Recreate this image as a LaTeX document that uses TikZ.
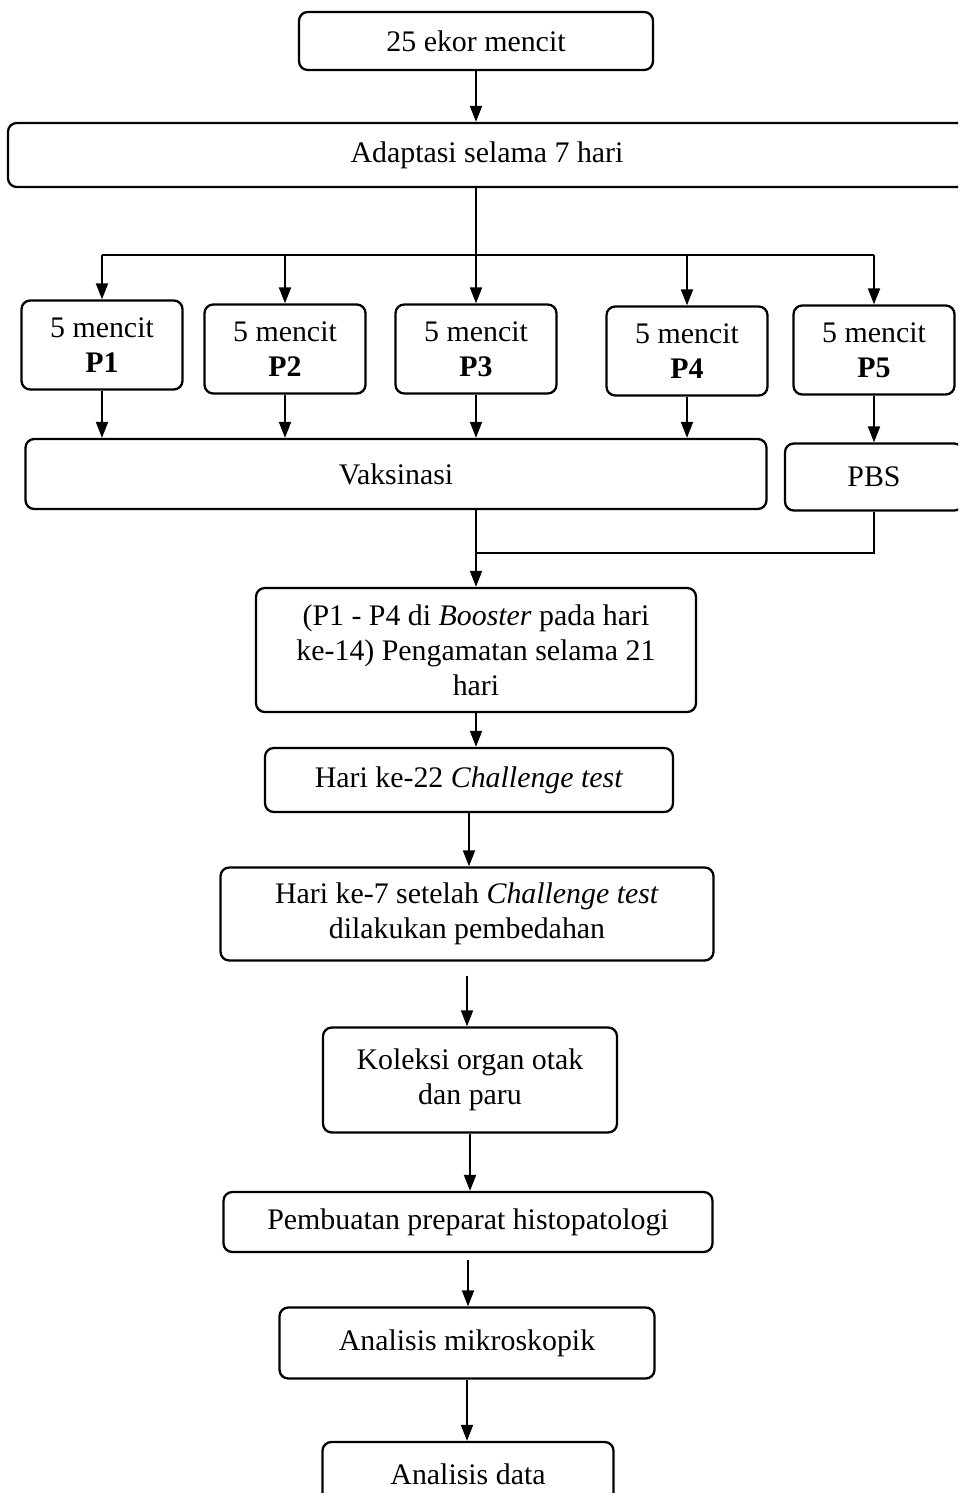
\documentclass[tikz,border=0pt]{standalone}
\usepackage{fontspec}
\setmainfont{Liberation Serif}
\usetikzlibrary{arrows.meta}
\tikzset{
  % rounded step boxes
  box/.style={draw, rounded corners=5pt, align=center, line width=1.3pt,
    font=\fontsize{17}{19.8}\selectfont},
  % box size given in pixels of the layout grid
  sz/.style 2 args={minimum width=#1*0.02cm, minimum height=#2*0.02cm},
  % connectors
  flow/.style={-{Triangle[length=0.32cm,width=0.24cm]}, line width=1.1pt},
  link/.style={line width=1.1pt},
}

\begin{document}
\begin{tikzpicture}[x=0.02cm, y=-0.02cm]
  \useasboundingbox (0,0) rectangle (958,1493);
  \clip (0,0) rectangle (958,1493);

  \node[box, sz={354}{58}] (start) at (476,41) {25 ekor mencit};
  \node[box, sz={958}{64}] (adapt) at (487,155) {Adaptasi selama 7 hari};

  \coordinate (bus) at (476,255);

  \node[box, sz={161}{89}] (p1) at (102,345) {5 mencit\\\textbf{P1}};
  \node[box, sz={161}{89}] (p2) at (285,349) {5 mencit\\\textbf{P2}};
  \node[box, sz={161}{89}] (p3) at (476,349) {5 mencit\\\textbf{P3}};
  \node[box, sz={161}{89}] (p4) at (687,351) {5 mencit\\\textbf{P4}};
  \node[box, sz={161}{89}] (p5) at (874,350) {5 mencit\\\textbf{P5}};

  \node[box, sz={741}{70}] (vaks) at (396,474) {Vaksinasi};
  \node[box, sz={178}{67}] (pbs) at (874,477) {PBS};

  \coordinate (join) at (476,553);

  \node[box, sz={440}{124}] (boost) at (476,650)
    {(P1 - P4 di \textit{Booster} pada hari\\ke-14) Pengamatan selama 21\\hari};
  \node[box, sz={408}{64}] (ch22) at (469,780) {Hari ke-22 \textit{Challenge test}};
  \node[box, sz={493}{93}] (ch7) at (467,914)
    {Hari ke-7 setelah \textit{Challenge test}\\dilakukan pembedahan};
  \node[box, sz={294}{105}] (kol) at (470,1080) {Koleksi organ otak\\dan paru};
  \node[box, sz={489}{60}] (prep) at (468,1222) {Pembuatan preparat histopatologi};
  \node[box, sz={375}{71}] (mikro) at (467,1343) {Analisis mikroskopik};
  \node[box, sz={291}{64}] (data) at (468,1474) {Analisis data};

  \draw[flow] (start) -- (start |- adapt.north);
  \draw[link] (adapt.south -| bus) -- (bus);
  \draw[link] (bus -| p1) -- (bus -| p5);
  \foreach \p in {p1,p2,p3,p4,p5}
    \draw[flow] (bus -| \p) -- (\p);

  \foreach \p in {p1,p2,p3,p4}
    \draw[flow] (\p) -- (\p |- vaks.north);
  \draw[flow] (p5) -- (pbs);

  \draw[flow] (vaks.south -| join) -- (boost);
  \draw[link] (pbs) |- (join);

  \draw[flow] (boost) -- (boost |- ch22.north);
  \draw[flow] (ch22.south) -- (ch22.south |- ch7.north);
  \draw[flow, shorten <=0.28cm] (ch7.south) -- (ch7.south |- kol.north);
  \draw[flow] (kol.south) -- (kol.south |- prep.north);
  \draw[flow, shorten <=0.14cm] (prep.south) -- (prep.south |- mikro.north);
  \draw[flow] (mikro.south) -- (mikro.south |- data.north);
\end{tikzpicture}
\end{document}
